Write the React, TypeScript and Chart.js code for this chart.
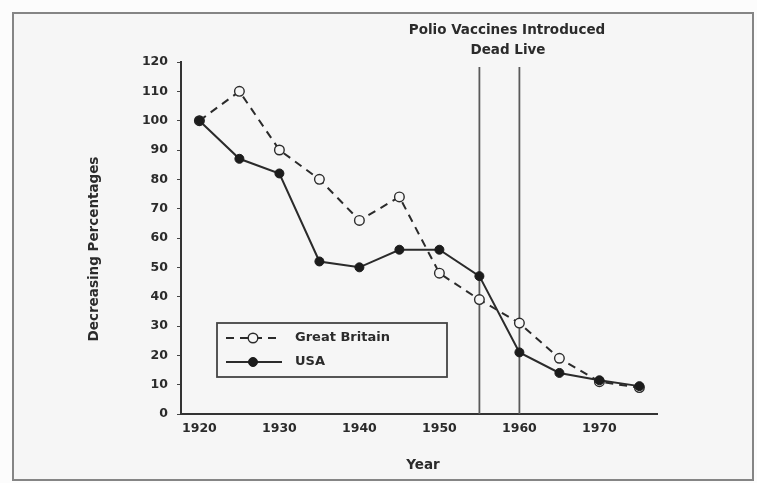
import React, { useEffect, useRef } from "react";
import { Chart, registerables } from "chart.js";

Chart.register(...registerables);

const years = [1920, 1925, 1930, 1935, 1940, 1945, 1950, 1955, 1960, 1965, 1970, 1975];
const greatBritain = [100, 110, 90, 80, 66, 74, 48, 39, 31, 19, 11, 9];
const usa = [100, 87, 82, 52, 50, 56, 56, 47, 21, 14, 11.5, 9.5];
const xTickYears = [1920, 1930, 1940, 1950, 1960, 1970];
const vaccineYears = [1955, 1960];
const chartTitle = "Polio Vaccines Introduced";
const vaccineLabel = "Dead Live";
const xTitle = "Year";
const yTitle = "Decreasing Percentages";

const INK = "#2b2b2b";
const PAPER = "#f6f6f6";
const FONT = '"DejaVu Sans", sans-serif';

const decor = {
  id: "decor",
  beforeDraw(chart: any) {
    const { ctx, width, height } = chart;
    ctx.save();
    ctx.fillStyle = "#fcfcfc";
    ctx.fillRect(0, 0, width, height);
    ctx.fillStyle = PAPER;
    ctx.fillRect(13, 13, 740, 467);
    ctx.strokeStyle = "#858585";
    ctx.lineWidth = 2;
    ctx.strokeRect(13, 13, 740, 467);
    ctx.restore();
  },
  beforeDatasetsDraw(chart: any) {
    const { ctx, chartArea } = chart;
    const xs = chart.scales.x;
    ctx.save();
    ctx.strokeStyle = "#5a5a5a";
    ctx.lineWidth = 1.8;
    vaccineYears.forEach((yr) => {
      const px = xs.getPixelForValue(yr);
      ctx.beginPath();
      ctx.moveTo(px, 67);
      ctx.lineTo(px, chartArea.bottom);
      ctx.stroke();
    });
    ctx.restore();
  },
  afterDraw(chart: any) {
    const { ctx } = chart;
    ctx.save();
    ctx.fillStyle = INK;
    ctx.textAlign = "center";
    ctx.textBaseline = "middle";
    ctx.font = `bold 13.5px ${FONT}`;
    ctx.fillText(chartTitle, 507, 30);
    ctx.fillText(vaccineLabel, 508, 50);

    ctx.font = `bold 13.5px ${FONT}`;
    ctx.fillText(xTitle, 423, 465);
    ctx.save();
    ctx.translate(94, 249);
    ctx.rotate(-Math.PI / 2);
    ctx.fillText(yTitle, 0, 0);
    ctx.restore();

    // legend box
    const bx = 217, by = 323, bw = 230, bh = 54;
    ctx.fillStyle = PAPER;
    ctx.fillRect(bx, by, bw, bh);
    ctx.strokeStyle = "#444";
    ctx.lineWidth = 1.8;
    ctx.strokeRect(bx, by, bw, bh);
    chart.data.datasets.forEach((ds: any, i: number) => {
      const ly = 338 + i * 24;
      ctx.save();
      ctx.strokeStyle = ds.borderColor;
      ctx.lineWidth = ds.borderWidth;
      ctx.setLineDash(ds.borderDash || []);
      ctx.beginPath();
      ctx.moveTo(226, ly);
      ctx.lineTo(282, ly);
      ctx.stroke();
      ctx.setLineDash([]);
      ctx.beginPath();
      ctx.arc(253, ly, ds.pointRadius, 0, Math.PI * 2);
      ctx.fillStyle = ds.pointBackgroundColor;
      ctx.fill();
      ctx.lineWidth = ds.pointBorderWidth;
      ctx.strokeStyle = ds.pointBorderColor;
      ctx.stroke();
      ctx.restore();
      ctx.fillStyle = INK;
      ctx.textAlign = "left";
      ctx.font = `bold 13px ${FONT}`;
      ctx.fillText(ds.label, 295, ly);
    });
    ctx.restore();
  },
};

export default function App() {
  const ref = useRef<HTMLCanvasElement | null>(null);
  useEffect(() => {
    document.body.style.margin = "0";
    if (!ref.current) return;
    const chart = new Chart(ref.current, {
      type: "line",
      data: {
        datasets: [
          {
            label: "Great Britain",
            data: years.map((x, i) => ({ x, y: greatBritain[i] })),
            borderColor: INK,
            borderWidth: 2,
            borderDash: [8, 6],
            pointRadius: 4.8,
            pointBackgroundColor: PAPER,
            pointBorderColor: INK,
            pointBorderWidth: 1.4,
            order: 2,
          },
          {
            label: "USA",
            data: years.map((x, i) => ({ x, y: usa[i] })),
            borderColor: INK,
            borderWidth: 2,
            pointRadius: 4.5,
            pointBackgroundColor: "#1c1c1c",
            pointBorderColor: "#1c1c1c",
            pointBorderWidth: 1,
            order: 1,
          },
        ],
      },
      options: {
        animation: false,
        responsive: false,
        layout: { padding: { left: 0, top: 62, right: 100, bottom: 0 } },
        plugins: { legend: { display: false }, tooltip: { enabled: false } },
        scales: {
          x: {
            type: "linear",
            min: 1917.7,
            max: 1977.2,
            afterBuildTicks: (s: any) => {
              s.ticks = xTickYears.map((v) => ({ value: v }));
            },
            afterFit: (s: any) => {
              s.height = 69;
            },
            grid: { display: false, drawTicks: false },
            border: { display: true, color: "#333", width: 2 },
            ticks: {
              padding: 7,
              color: INK,
              font: { family: FONT, size: 12.5, weight: "bold" },
              callback: (v: any) => String(v),
              maxRotation: 0,
              autoSkip: false,
            },
          },
          y: {
            min: 0,
            max: 120,
            afterFit: (s: any) => {
              s.width = 181;
            },
            grid: { drawOnChartArea: false, drawTicks: true, tickLength: 4, color: "#444" },
            border: { display: true, color: "#333", width: 2 },
            ticks: {
              stepSize: 10,
              padding: 9,
              color: INK,
              font: { family: FONT, size: 12.5, weight: "bold" },
            },
          },
        },
      },
      plugins: [decor],
    } as any);
    return () => chart.destroy();
  }, []);
  return <canvas ref={ref} width={757} height={483} style={{ display: "block" }} />;
}
